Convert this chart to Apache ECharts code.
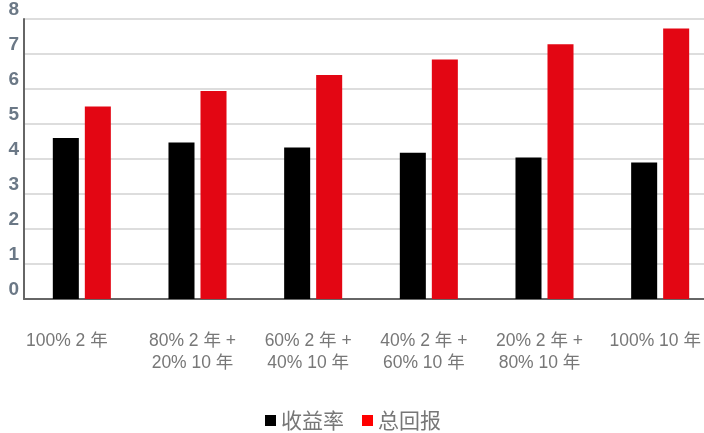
<!DOCTYPE html>
<html>
<head>
<meta charset="utf-8">
<script src="https://cdn.jsdelivr.net/npm/echarts@6/dist/echarts.min.js"></script>
<style>
  html, body { margin: 0; padding: 0; background: #fff; overflow: hidden; }
  #chart { width: 720px; height: 433px; }
</style>
</head>
<body>
<div id="chart"></div>
<script>
// Portfolio mixes of 2-year and 10-year bonds
const categories = [
  '100% 2 年',
  '80% 2 年 +\n20% 10 年',
  '60% 2 年 +\n40% 10 年',
  '40% 2 年 +\n60% 10 年',
  '20% 2 年 +\n80% 10 年',
  '100% 10 年'
];
const yieldValues = [4.6, 4.47, 4.33, 4.18, 4.04, 3.9];
const totalReturnValues = [5.5, 5.94, 6.4, 6.84, 7.28, 7.73];
const yTicks = [0, 1, 2, 3, 4, 5, 6, 7, 8];

// labels sit a little left of their bar pairs
const categoryData = categories.map((c, i) => ({
  value: c,
  textStyle: { padding: [0, i === 0 ? 30 : 10, 0, 0] }
}));

const chart = echarts.init(document.getElementById('chart'));
chart.setOption({
  animation: false,
  // plot runs slightly past the visible right edge
  grid: { left: 24, right: 2, top: 17, bottom: 134 },
  legend: {
    bottom: -3,
    left: 260,
    itemWidth: 11,
    itemHeight: 11,
    itemGap: 18,
    icon: 'rect',
    textStyle: { fontFamily: 'Noto Sans CJK SC', fontSize: 21, color: '#777' },
    data: [
      { name: '收益率', itemStyle: { color: '#000' } },
      { name: '总回报', itemStyle: { color: '#ff0000' } }
    ]
  },
  xAxis: {
    type: 'category',
    data: categoryData,
    axisLine: { lineStyle: { color: '#666', width: 2 } },
    axisTick: { show: false },
    axisLabel: {
      interval: 0,
      margin: 31,
      lineHeight: 22,
      fontSize: 17.5,
      color: '#777',
      fontFamily: 'Liberation Sans, Noto Sans CJK SC'
    }
  },
  yAxis: {
    type: 'value',
    min: yTicks[0],
    max: yTicks[yTicks.length - 1],
    interval: 1,
    axisLine: { show: true, lineStyle: { color: '#666', width: 2 } },
    axisTick: { show: false },
    splitLine: { lineStyle: { color: '#ddd', width: 2 } },
    axisLabel: {
      margin: 5,
      fontSize: 19,
      fontWeight: 'bold',
      color: '#6b7886',
      fontFamily: 'Liberation Sans',
      verticalAlign: 'bottom'
    }
  },
  series: [
    {
      name: '收益率',
      type: 'bar',
      data: yieldValues,
      barWidth: '22.5%',
      barGap: '23%',
      itemStyle: { color: '#000' }
    },
    {
      name: '总回报',
      type: 'bar',
      data: totalReturnValues,
      barWidth: '22.5%',
      itemStyle: { color: '#e30613' }
    }
  ]
});
</script>
</body>
</html>
